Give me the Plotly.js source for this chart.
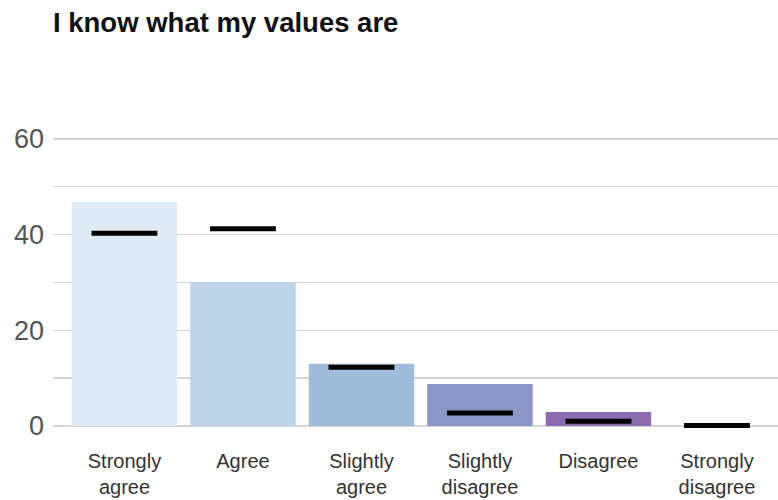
<!DOCTYPE html>
<html>
<head>
<meta charset="utf-8">
<script src="https://cdn.plot.ly/plotly-3.0.1.min.js"></script>
<style>html,body{margin:0;padding:0;background:#fff;}#chart{width:778px;height:500px;}</style>
</head>
<body>
<div id="chart"></div>
<script>
var categories = ["Strongly<br>agree", "Agree", "Slightly<br>agree", "Slightly<br>disagree", "Disagree", "Strongly<br>disagree"];
var responses = [46.8, 30.1, 13.0, 8.8, 2.9, 0];
var benchmark = [40.3, 41.2, 12.3, 2.7, 1.0, 0.1];
var barColors = ["#deeaf4", "#bdd3e7", "#9fbcda", "#8a96c7", "#8c6bb1", "#6e4a9e"];

var data = [
  {
    type: "bar",
    x: categories,
    y: responses,
    marker: {color: barColors},
    hoverinfo: "skip",
    showlegend: false
  },
  {
    type: "scatter",
    mode: "markers",
    x: categories,
    y: benchmark,
    marker: {symbol: "line-ew-open", size: 47, color: "#000", line: {width: 5, color: "#000"}},
    cliponaxis: false,
    hoverinfo: "skip",
    showlegend: false
  }
];

var layout = {
  width: 778,
  height: 500,
  margin: {l: 53, r: 0, t: 91, b: 74},
  paper_bgcolor: "#fff",
  plot_bgcolor: "#fff",
  bargap: 0.11,
  title: {
    text: "<b>I know what my values are</b>",
    font: {family: "Liberation Sans, Arial, sans-serif", size: 27.5, color: "#111"},
    x: 0, xref: "paper", xanchor: "left",
    y: 0.955, yref: "container", yanchor: "middle"
  },
  xaxis: {
    type: "category",
    range: [-0.603, 5.515],
    showgrid: false,
    zeroline: false,
    showline: false,
    ticks: "",
    ticklabelstandoff: 21,
    tickfont: {family: "Liberation Sans, Arial, sans-serif", size: 20, color: "#333"},
    fixedrange: true
  },
  yaxis: {
    range: [0, 70],
    tickvals: [0, 10, 20, 30, 40, 50, 60, 70],
    ticktext: ["0", "", "20", "", "40", "", "60", ""],
    showgrid: true,
    gridcolor: "#d4d4d4",
    gridwidth: 1.5,
    zeroline: true,
    zerolinecolor: "#d4d4d4",
    zerolinewidth: 1.5,
    showline: false,
    ticks: "",
    ticklabelstandoff: 8,
    tickfont: {family: "Liberation Sans, Arial, sans-serif", size: 27, color: "#555"},
    fixedrange: true
  }
};

Plotly.newPlot("chart", data, layout, {displayModeBar: false, staticPlot: true});
</script>
</body>
</html>
